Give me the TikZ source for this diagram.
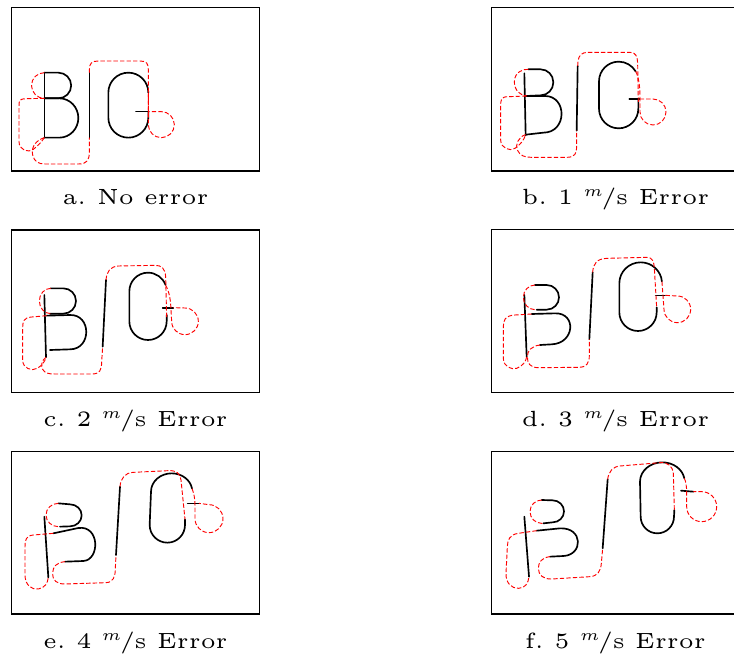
\documentclass[tikz,border=0pt]{standalone}
\usepackage{graphicx}
\tikzset{
 blk/.style={line width=1.25pt, line cap=round, line join=round},
 pu/.style={red, line width=0.7pt, dash pattern=on 3.3pt off 1.6pt},
 frame/.style={line width=1pt},
 captxt/.style={anchor=base, inner sep=0pt, font=\fontsize{5}{6}\selectfont}
}
\newcommand{\capt}[1]{\scalebox{3.3}{#1}}
\newcommand{\ms}{\raisebox{0.38em}{\scalebox{0.72}{$m$}}\kern-0.06em/\kern-0.02em s}
\begin{document}
\begin{tikzpicture}[x=0.75pt,y=-0.75pt]
\useasboundingbox (0,0) rectangle (734,659);
% ---------- panel a ----------
\begin{scope}[shift={(0,0)},scale=1/3]
\draw[frame] (35,23) rectangle (778,513);
\draw[blk] (133,413) -- (133,218);
\draw[blk] (133,218) -- (175,218) arc[start angle=-90,end angle=90,radius=38.5] -- (133,295);
\draw[blk] (133,295) -- (178,295) arc[start angle=-90,end angle=90,x radius=57,y radius=59] -- (133,413);
\draw[blk] (268,218) -- (268,413);
\draw[blk] (445,335) -- (445,353) arc[start angle=0,end angle=180,radius=60] -- (325,278) arc[start angle=180,end angle=360,radius=60];
\draw[blk] (408,335) -- (445,335);
\draw[pu] (133,218) arc[start angle=-90,end angle=-270,radius=38.5];
\draw[pu] (133,295) -- (80,296) .. controls (57,297) and (57,300) .. (57,320) -- (57,425) .. controls (57,450) and (85,460) .. (100,448) .. controls (115,437) and (125,425) .. (133,413);
\draw[pu] (133,413) .. controls (110,420) and (92,440) .. (98,465) .. controls (103,485) and (115,492) .. (135,492) -- (235,492) .. controls (262,492) and (268,480) .. (268,455) -- (268,413);
\draw[pu] (268,218) -- (268,210) .. controls (268,190) and (275,183) .. (295,183) -- (420,183) .. controls (440,183) and (445,190) .. (445,210) -- (445,353);
\draw[pu] (445,278) -- (445,374) arc[start angle=180,end angle=-90,radius=39] -- (445,335);
\end{scope}
% ---------- panel b ----------
\begin{scope}[shift={(480,0)},scale=1/3]
\draw[frame] (35,23) rectangle (778,513);
\draw[blk] (133,220) -- (137,406);
\draw[blk] (145,208) -- (182,208) arc[start angle=-90,end angle=90,x radius=38,y radius=39] -- (138,288);
\draw[blk] (138,288) -- (195,288) .. controls (262,288) and (262,398) .. (190,398) -- (137,404);
\draw[blk] (293,198) -- (290,392);
\draw[blk] (475,300) -- (475,326) arc[start angle=0,end angle=180,radius=59] -- (357,244) arc[start angle=180,end angle=330,radius=59];
\draw[blk] (448,297) -- (478,297);
\draw[pu] (145,208) .. controls (130,207) and (104,215) .. (103,245) .. controls (103,272) and (122,287) .. (140,288);
\draw[pu] (140,288) -- (85,290) .. controls (62,290) and (62,300) .. (62,320) -- (62,420) .. controls (62,445) and (90,455) .. (105,445) .. controls (120,435) and (132,420) .. (137,404);
\draw[pu] (137,404) .. controls (115,410) and (105,435) .. (112,450) .. controls (120,468) and (135,472) .. (155,472) -- (260,472) .. controls (285,472) and (290,460) .. (290,440) -- (290,392);
\draw[pu] (293,198) -- (294,185) .. controls (296,165) and (305,157) .. (325,157) -- (450,157) .. controls (468,157) and (472,170) .. (473,190) -- (475,310);
\draw[pu] (467,214) .. controls (476,230) and (480,260) .. (480,290) -- (480,336) arc[start angle=180,end angle=-90,radius=39] -- (478,297);
\end{scope}
% ---------- panel c ----------
\begin{scope}[shift={(0,220)},scale=1/3]
\draw[frame] (35,30) rectangle (778,518);
\draw[blk] (133,225) -- (138,412);
\draw[blk] (152,205) -- (190,205) arc[start angle=-90,end angle=90,radius=38] -- (150,281);
\draw[blk] (140,287) -- (210,285) .. controls (275,283) and (275,388) .. (210,388) -- (150,390);
\draw[blk] (318,180) -- (308,380);
\draw[blk] (500,285) -- (500,304) arc[start angle=0,end angle=180,radius=56] -- (388,214) arc[start angle=180,end angle=340,radius=56];
\draw[blk] (488,263) -- (520,263);
\draw[pu] (152,205) arc[start angle=-90,end angle=-270,x radius=34,y radius=38];
\draw[pu] (140,287) -- (95,291) .. controls (70,293) and (68,305) .. (68,325) -- (68,420) .. controls (68,445) and (95,455) .. (112,445) .. controls (125,437) and (135,425) .. (138,412);
\draw[pu] (138,412) .. controls (125,420) and (122,440) .. (128,448) .. controls (135,460) and (145,462) .. (165,462) -- (275,462) .. controls (300,462) and (305,450) .. (305,425) -- (308,380);
\draw[pu] (318,180) .. controls (320,155) and (330,140) .. (355,138) -- (465,136) .. controls (485,136) and (495,145) .. (497,170) -- (500,295);
\draw[pu] (496.6,194.8) .. controls (508,215) and (512,240) .. (513,270) -- (515,304) arc[start angle=180,end angle=-90,radius=40] -- (520,263);
\end{scope}
% ---------- panel d ----------
\begin{scope}[shift={(480,220)},scale=1/3]
\draw[frame] (35,28) rectangle (778,518);
\draw[blk] (133,225) -- (140,410);
\draw[blk] (165,195) -- (200,195) arc[start angle=-90,end angle=90,radius=37] -- (170,269);
\draw[blk] (155,282) -- (225,280) .. controls (290,278) and (285,370) .. (215,373) -- (180,375);
\draw[blk] (338,157) -- (328,358);
\draw[blk] (530,262) -- (530,277) arc[start angle=0,end angle=180,radius=56] -- (418,190) arc[start angle=180,end angle=355,x radius=64,y radius=63];
\draw[blk] (555,226) -- (527,226);
\draw[pu] (165,195) arc[start angle=-90,end angle=-270,x radius=35,y radius=37];
\draw[pu] (155,282) -- (105,285) .. controls (75,287) and (70,300) .. (70,320) -- (70,415) .. controls (70,440) and (95,450) .. (110,445) .. controls (128,438) and (138,425) .. (140,410);
\draw[pu] (180,375) .. controls (155,378) and (142,392) .. (142,410) .. controls (142,430) and (150,443) .. (175,443) -- (295,442) .. controls (320,442) and (328,430) .. (328,405) -- (328,358);
\draw[pu] (338,157) .. controls (340,130) and (350,117) .. (380,115) -- (500,112) .. controls (518,112) and (522,125) .. (523,145) -- (530,262);
\draw[pu] (545.8,184.5) -- (552,268) arc[start angle=180,end angle=-90,radius=40] -- (555,226);
\end{scope}
% ---------- panel e ----------
\begin{scope}[shift={(0,440)},scale=1/3]
\draw[frame] (35,35) rectangle (778,522);
\draw[blk] (133,230) -- (145,412);
\draw[blk] (175,190) -- (210,193) arc[start angle=-90,end angle=90,x radius=35,y radius=33] -- (180,260);
\draw[blk] (160,280) -- (235,264) .. controls (300,255) and (300,360) .. (250,363) -- (195,365);
\draw[blk] (360,140) -- (348,345);
\draw[blk] (555,238) -- (555,255) arc[start angle=0,end angle=180,radius=53] -- (453,155) arc[start angle=180,end angle=350,x radius=62,y radius=55];
\draw[blk] (597,190) -- (563,190);
\draw[pu] (175,190) arc[start angle=-90,end angle=-270,x radius=37,y radius=35] -- (180,260);
\draw[pu] (160,280) -- (100,285) .. controls (78,287) and (75,300) .. (75,320) -- (75,405) .. controls (75,435) and (95,450) .. (115,447) .. controls (135,443) and (143,430) .. (145,412);
\draw[pu] (195,365) .. controls (170,367) and (158,380) .. (158,400) .. controls (158,422) and (170,432) .. (195,432) -- (318,428) .. controls (340,427) and (346,410) .. (346,385) -- (348,345);
\draw[pu] (360,140) .. controls (362,115) and (375,98) .. (400,97) -- (505,92) .. controls (530,91) and (540,100) .. (543,120) -- (555,238);
\draw[pu] (576,145.5) .. controls (582,160) and (585,175) .. (585,200) -- (585,236) arc[start angle=180,end angle=-90,radius=42] -- (597,190);
\end{scope}
% ---------- panel f ----------
\begin{scope}[shift={(480,440)},scale=1/3]
\draw[frame] (35,35) rectangle (778,522);
\draw[blk] (133,230) -- (147,410);
\draw[blk] (185,180) -- (218,181) arc[start angle=-90,end angle=90,x radius=34,y radius=33] -- (190,250);
\draw[blk] (170,272) -- (240,265) .. controls (310,262) and (310,345) .. (250,348) -- (210,350);
\draw[blk] (383,118) -- (368,325);
\draw[blk] (583,210) -- (582,230) arc[start angle=0,end angle=180,radius=50] -- (480,125) arc[start angle=180,end angle=350,x radius=67,y radius=58];
\draw[blk] (640,155) -- (603,152);
\draw[pu] (185,180) arc[start angle=-90,end angle=-270,radius=35] -- (190,250);
\draw[pu] (170,272) -- (115,280) .. controls (88,284) and (83,300) .. (82,320) -- (78,400) .. controls (77,430) and (95,445) .. (115,445) .. controls (135,445) and (145,430) .. (147,410);
\draw[pu] (210,350) .. controls (185,352) and (175,368) .. (175,385) .. controls (175,405) and (190,418) .. (215,417) -- (330,410) .. controls (352,408) and (362,395) .. (364,370) -- (368,325);
\draw[pu] (383,118) .. controls (386,95) and (398,80) .. (420,78) -- (540,68) .. controls (565,66) and (578,80) .. (580,100) -- (583,210);
\draw[pu] (613,115) .. controls (618,125) and (620,140) .. (620,160) -- (620,200) arc[start angle=180,end angle=-90,radius=45] -- (640,155);
\end{scope}
% ---------- captions ----------
\node[captxt] (capa) at (135.5,204.5) {\capt{a.\enspace No error}};
\node[captxt] (capb) at (615.5,204.5) {\capt{b.\enspace 1 \ms\ Error}};
\node[captxt] (capc) at (135.5,426.5) {\capt{c.\enspace 2 \ms\ Error}};
\node[captxt] (capd) at (615.5,426.5) {\capt{d.\enspace 3 \ms\ Error}};
\node[captxt] (cape) at (135.5,648.5) {\capt{e.\enspace 4 \ms\ Error}};
\node[captxt] (capf) at (615.5,648.5) {\capt{f.\enspace 5 \ms\ Error}};
\end{tikzpicture}
\end{document}
